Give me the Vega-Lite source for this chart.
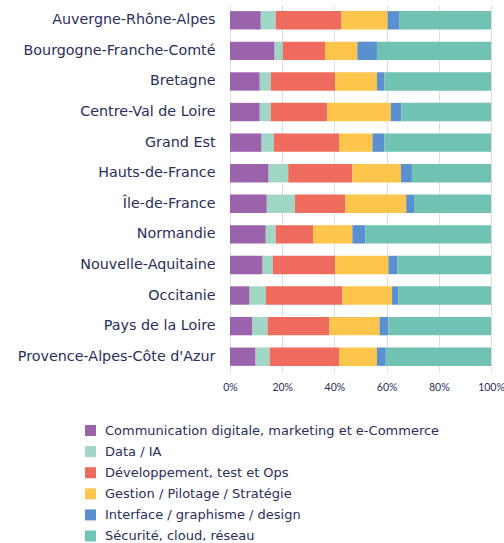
{
  "$schema": "https://vega.github.io/schema/vega-lite/v6.json",
  "autosize": "none",
  "width": 261,
  "height": 367,
  "padding": {"left": 230, "top": 5, "right": 13, "bottom": 171},
  "background": "white",
  "config": {
    "font": "DejaVu Sans",
    "view": {"stroke": null}
  },
  "datasets": {
    "raw": [
      {"region": "Auvergne-Rhône-Alpes", "c1": 11.8, "c2": 5.7, "c3": 25.1, "c4": 17.8, "c5": 4.6, "c6": 35.0},
      {"region": "Bourgogne-Franche-Comté", "c1": 17.1, "c2": 3.1, "c3": 16.2, "c4": 12.4, "c5": 7.5, "c6": 43.7},
      {"region": "Bretagne", "c1": 11.4, "c2": 4.2, "c3": 24.7, "c4": 16.0, "c5": 2.9, "c6": 40.8},
      {"region": "Centre-Val de Loire", "c1": 11.4, "c2": 4.2, "c3": 21.6, "c4": 24.4, "c5": 4.1, "c6": 34.3},
      {"region": "Grand Est", "c1": 12.1, "c2": 4.7, "c3": 25.0, "c4": 12.8, "c5": 4.6, "c6": 40.8},
      {"region": "Hauts-de-France", "c1": 14.8, "c2": 7.5, "c3": 24.6, "c4": 18.6, "c5": 4.2, "c6": 30.3},
      {"region": "Île-de-France", "c1": 14.1, "c2": 10.8, "c3": 19.2, "c4": 23.4, "c5": 3.0, "c6": 29.5},
      {"region": "Normandie", "c1": 13.7, "c2": 3.8, "c3": 14.3, "c4": 15.1, "c5": 5.0, "c6": 48.1},
      {"region": "Nouvelle-Aquitaine", "c1": 12.5, "c2": 3.9, "c3": 23.9, "c4": 20.4, "c5": 3.5, "c6": 35.8},
      {"region": "Occitanie", "c1": 7.5, "c2": 6.2, "c3": 29.4, "c4": 19.0, "c5": 2.5, "c6": 35.4},
      {"region": "Pays de la Loire", "c1": 8.6, "c2": 5.8, "c3": 23.6, "c4": 19.3, "c5": 3.4, "c6": 39.3},
      {"region": "Provence-Alpes-Côte d'Azur", "c1": 9.8, "c2": 5.4, "c3": 26.6, "c4": 14.5, "c5": 3.4, "c6": 40.3}
    ]
  },
  "data": {"name": "raw"},
  "transform": [
    {"fold": ["c1", "c2", "c3", "c4", "c5", "c6"], "as": ["key", "value"]},
    {"lookup": "key", "from": {"data": {"values": [
      {"key": "c1", "metier": "Communication digitale, marketing et e-Commerce", "rank": 1},
      {"key": "c2", "metier": "Data / IA", "rank": 2},
      {"key": "c3", "metier": "Développement, test et Ops", "rank": 3},
      {"key": "c4", "metier": "Gestion / Pilotage / Stratégie", "rank": 4},
      {"key": "c5", "metier": "Interface / graphisme / design", "rank": 5},
      {"key": "c6", "metier": "Sécurité, cloud, réseau", "rank": 6}
    ]}, "key": "key", "fields": ["metier", "rank"]}}
  ],
  "mark": {"type": "bar"},
  "encoding": {
    "y": {
      "field": "region", "type": "nominal", "sort": null,
      "scale": {"paddingInner": 0.4, "paddingOuter": 0.2},
      "axis": {"title": null, "ticks": false, "domain": false, "labelFontSize": 14.3, "labelColor": "#2b2d5c", "labelPadding": 15, "labelLimit": 228}
    },
    "x": {
      "field": "value", "type": "quantitative", "stack": "normalize",
      "axis": {"title": null, "format": "%", "values": [0, 0.2, 0.4, 0.6, 0.8, 1], "ticks": false, "domain": false, "labelFlush": false, "labelFont": "Lato", "labelFontSize": 10.5, "labelColor": "#2b2d5c", "labelPadding": 10, "gridColor": "#dddddd", "gridWidth": 1}
    },
    "color": {
      "field": "metier", "type": "nominal",
      "scale": {
        "domain": ["Communication digitale, marketing et e-Commerce", "Data / IA", "Développement, test et Ops", "Gestion / Pilotage / Stratégie", "Interface / graphisme / design", "Sécurité, cloud, réseau"],
        "range": ["#9a63ab", "#a0d6c6", "#ef6b5e", "#fdc54b", "#5a8fd0", "#70c2b3"]
      },
      "legend": {
        "title": null, "orient": "none", "legendX": -146, "legendY": 419,
        "symbolType": "square", "symbolSize": 120, "symbolStrokeWidth": 0,
        "labelFontSize": 13, "labelColor": "#2b2d5c", "labelLimit": 400, "rowPadding": 7.1, "labelOffset": 8
      }
    },
    "order": {"field": "rank", "type": "quantitative"}
  }
}
